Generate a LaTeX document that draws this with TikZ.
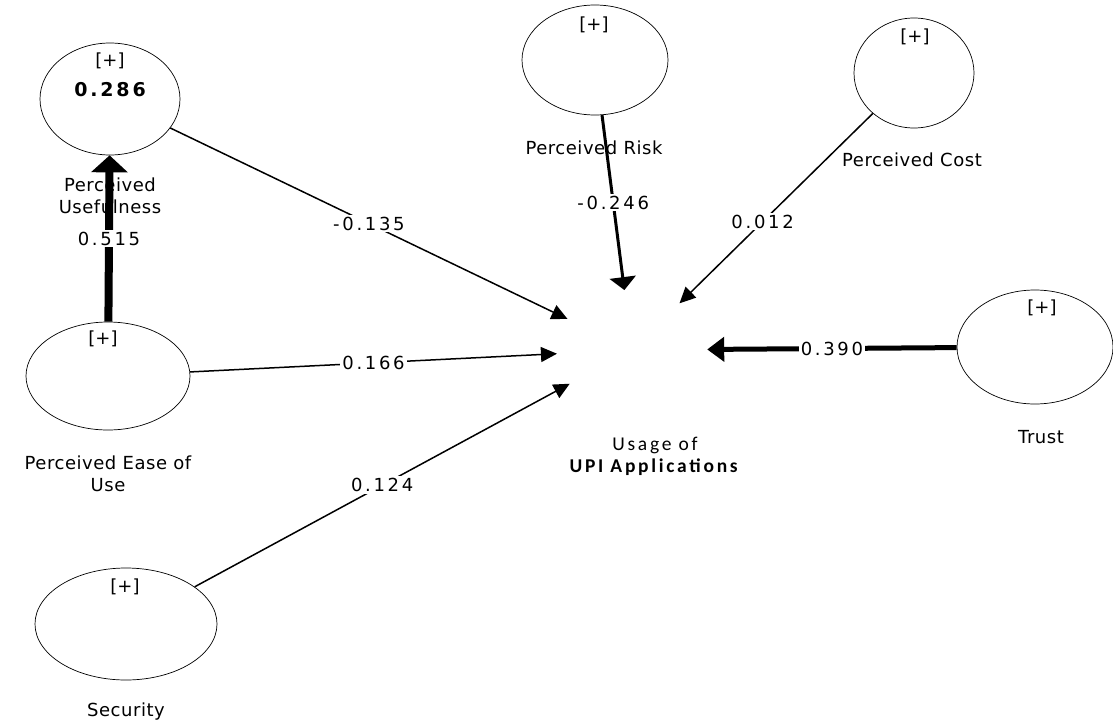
\documentclass[tikz,border=0pt]{standalone}
\usepackage{fontspec}
\setmainfont{DejaVu Sans}
\newfontfamily\numfont[LetterSpace=15]{DejaVu Sans}
\newfontfamily\namefont[LetterSpace=3]{DejaVu Sans}
\newfontfamily\hubfont[LetterSpace=14]{Carlito}
\usetikzlibrary{shapes.geometric,arrows.meta}
\begin{document}
\begin{tikzpicture}[x=1pt,y=-1pt,
  construct/.style={ellipse, draw, line width=0.7pt, inner sep=0pt},
  hub/.style={ellipse, inner sep=0pt, minimum width=150pt, minimum height=120pt},
  cname/.style={font=\namefont\fontsize{18}{22}\selectfont, align=center, inner sep=0pt},
  hubname/.style={font=\hubfont\fontsize{19.5}{22}\selectfont, align=center, inner sep=0pt},
  icon/.style={font=\fontsize{18}{18}\selectfont, inner sep=0pt},
  coef/.style={font=\numfont\fontsize{18}{20}\selectfont, fill=white, inner sep=2pt},
  rsq/.style={font=\numfont\bfseries\fontsize{19}{20}\selectfont, inner sep=0pt},
  thinpath/.style={draw, line width=1.5pt, -{Triangle[length=16pt,width=15pt]}},
]
\useasboundingbox (0,0) rectangle (1113,725);

% constructs
\node[construct, minimum width=140pt, minimum height=112pt] (pu) at (110,99) {};
\node[construct, minimum width=164pt, minimum height=108pt] (peou) at (108,376) {};
\node[construct, minimum width=182pt, minimum height=112pt] (sec) at (126,624) {};
\node[construct, minimum width=146pt, minimum height=110pt] (pr) at (595,60) {};
\node[construct, minimum width=120pt, minimum height=110pt] (pc) at (914,73) {};
\node[construct, minimum width=156pt, minimum height=114pt] (trust) at (1035,347) {};
\node[hub] (upi) at (632,350) {};

% icons
\node[icon] (puicon) at (110,61) {[+]};
\node[icon] (peouicon) at (103,339) {[+]};
\node[icon] (secicon) at (125,587) {[+]};
\node[icon] (pricon) at (594,25) {[+]};
\node[icon] (pcicon) at (915,37) {[+]};
\node[icon] (trusticon) at (1042,308) {[+]};
\node[rsq] (pur2) at (110,90) {0.286};

% names
\node[cname] (puname) at (110,196) {Perceived\\Usefulness};
\node[cname] (peouname) at (108,474) {Perceived Ease of\\Use};
\node[cname] (secname) at (126,712) {Security};
\node[cname] (prname) at (594,148) {Perceived Risk};
\node[cname] (pcname) at (912,160) {Perceived Cost};
\node[cname] (trustname) at (1041,437) {Trust};
\node[hubname] (upiname) at (655,456) {Usage of\\\textbf{UPI Applications}};

% paths
\draw[line width=8pt, -{Triangle[length=17pt,width=36pt]}] (peou) -- node[coef]{0.515} (pu);
\draw[thinpath] (pu) -- node[coef]{-0.135} (upi);
\draw[thinpath] (peou) -- node[coef]{0.166} (upi);
\draw[thinpath] (sec) -- node[coef]{0.124} (upi);
\draw[line width=3pt, -{Triangle[length=13pt,width=26pt]}] (pr) -- node[coef]{-0.246} (upi);
\draw[thinpath] (pc) -- node[coef, pos=0.57]{0.012} (upi);
\draw[line width=5pt, -{Triangle[length=17pt,width=24pt]}] (trust) -- node[coef]{0.390} (upi);
\end{tikzpicture}
\end{document}
